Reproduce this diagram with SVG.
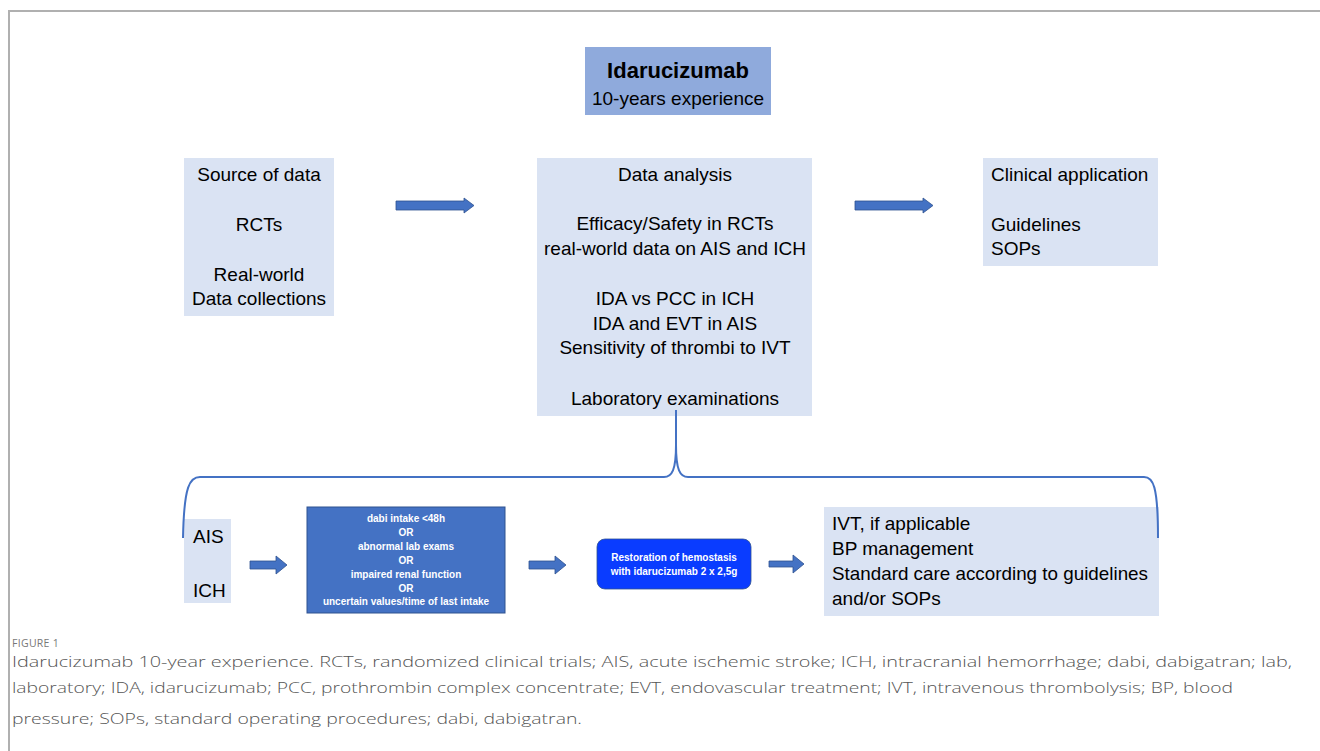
<svg xmlns="http://www.w3.org/2000/svg" width="1320" height="751" viewBox="0 0 1320 751">
<defs>
<style>
.t{font-family:"Liberation Sans",Arial,sans-serif;fill:#000;}
.m{font-size:19px;text-anchor:middle;}
.l{font-size:19px;}
.w{font-family:"Liberation Sans",Arial,sans-serif;font-weight:bold;fill:#fff;font-size:10px;text-anchor:middle;}
.box{fill:#dae3f3;}
.arr{fill:#4472c4;stroke:#2f528f;stroke-width:0.8;}
.cap{font-family:"Open Sans","Liberation Sans",sans-serif;fill:#555;font-size:15px;font-weight:300;}
</style>
</defs>
<rect width="1320" height="751" fill="#fff"/>
<path d="M9,751 V11 H1320" fill="none" stroke="#b0b0b0" stroke-width="2"/>

<g id="title">
<rect x="585" y="47" width="186" height="68" fill="#8faadc"/>
<text class="t" x="678" y="78" text-anchor="middle" font-size="22" font-weight="bold">Idarucizumab</text>
<text class="t m" x="678" y="105">10-years experience</text>
</g>

<g id="source">
<rect class="box" x="184" y="158" width="150" height="158"/>
<text class="t m" x="259" y="181">Source of data</text>
<text class="t m" x="259" y="231">RCTs</text>
<text class="t m" x="259" y="281">Real-world</text>
<text class="t m" x="259" y="305">Data collections</text>
</g>

<g id="analysis">
<rect class="box" x="537" y="158" width="275" height="258"/>
<text class="t m" x="675" y="181">Data analysis</text>
<text class="t m" x="675" y="230">Efficacy/Safety in RCTs</text>
<text class="t m" x="675" y="255">real-world data on AIS and ICH</text>
<text class="t m" x="675" y="305">IDA vs PCC in ICH</text>
<text class="t m" x="675" y="330">IDA and EVT in AIS</text>
<text class="t m" x="675" y="354">Sensitivity of thrombi to IVT</text>
<text class="t m" x="675" y="405">Laboratory examinations</text>
</g>

<g id="clinical">
<rect class="box" x="983" y="158" width="175" height="108"/>
<text class="t l" x="991" y="181">Clinical application</text>
<text class="t l" x="991" y="231">Guidelines</text>
<text class="t l" x="991" y="255">SOPs</text>
</g>

<g id="ais-ich">
<rect class="box" x="184" y="519" width="47" height="84"/>
<text class="t l" x="193" y="543">AIS</text>
<text class="t l" x="193" y="597">ICH</text>
</g>

<g id="criteria">
<rect x="307" y="507" width="198" height="106" fill="#4472c4" stroke="#2f528f" stroke-width="1"/>
<text class="w" x="406" y="522">dabi intake &lt;48h</text>
<text class="w" x="406" y="536">OR</text>
<text class="w" x="406" y="550">abnormal lab exams</text>
<text class="w" x="406" y="564">OR</text>
<text class="w" x="406" y="578">impaired renal function</text>
<text class="w" x="406" y="592">OR</text>
<text class="w" x="406" y="605">uncertain values/time of last intake</text>
</g>

<g id="restoration">
<rect x="597" y="539" width="154" height="50" rx="8" fill="#0a3cff" stroke="#2f528f" stroke-width="0.8"/>
<text class="w" x="674" y="561">Restoration of hemostasis</text>
<text class="w" x="674" y="575">with idarucizumab  2 x 2,5g</text>
</g>

<g id="care">
<rect class="box" x="824" y="507" width="335" height="109"/>
<text class="t l" x="832" y="530">IVT, if applicable</text>
<text class="t l" x="832" y="555">BP management</text>
<text class="t l" x="832" y="580" textLength="316" lengthAdjust="spacingAndGlyphs">Standard care according to guidelines</text>
<text class="t l" x="832" y="605">and/or SOPs</text>
</g>

<g id="connectors">
<path class="arr" d="M396,201 H464 V198 L474,205.5 L464,213 V210 H396 Z"/>
<path class="arr" d="M855,201 H923 V198 L933,205.5 L923,213 V210 H855 Z"/>
<path class="arr" d="M250,561 H276 V556 L287,565 L276,574 V569 H250 Z"/>
<path class="arr" d="M529,561 H555 V556 L566,565 L555,574 V569 H529 Z"/>
<path class="arr" d="M769,561 H793 V555 L804,564 L793,573 V567 H769 Z"/>
<path d="M676,410 V445 C676,470 672,477 664,477 H200 C190,477 184,485 183,538 M676,445 C676,470 680,477 688,477 H1144 C1153,477 1158,485 1158,538" fill="none" stroke="#4472c4" stroke-width="2"/>
</g>

<g id="caption">
<text x="12" y="647" font-family="'Open Sans','Liberation Sans',sans-serif" font-size="10.5" fill="#777" letter-spacing="0.3">FIGURE 1</text>
<text class="cap" x="12" y="667" textLength="1280" lengthAdjust="spacingAndGlyphs">Idarucizumab 10-year experience. RCTs, randomized clinical trials; AIS, acute ischemic stroke; ICH, intracranial hemorrhage; dabi, dabigatran; lab,</text>
<text class="cap" x="12" y="693" textLength="1221" lengthAdjust="spacingAndGlyphs">laboratory; IDA, idarucizumab; PCC, prothrombin complex concentrate; EVT, endovascular treatment; IVT, intravenous thrombolysis; BP, blood</text>
<text class="cap" x="12" y="724" textLength="570" lengthAdjust="spacingAndGlyphs">pressure; SOPs, standard operating procedures; dabi, dabigatran.</text>
</g>
</svg>
